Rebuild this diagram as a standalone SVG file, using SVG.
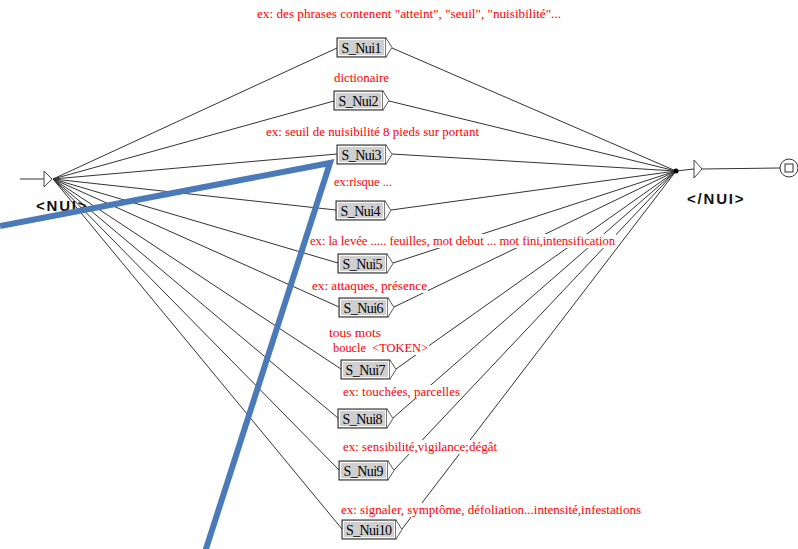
<svg xmlns="http://www.w3.org/2000/svg" width="798" height="549" viewBox="0 0 798 549">
<style>
.c{stroke:#333;stroke-width:1;fill:none}
.lb{fill:#fff}
.lt{font-family:"Liberation Serif",serif;font-size:12.5px;fill:#ff0000}
.bx{fill:#cfcfcf;stroke:#222;stroke-width:1}
.bi{fill:none;stroke:#fff;stroke-width:1}
.ar{fill:#fff;stroke:#555;stroke-width:1}
.bt{font-family:"Liberation Serif",serif;font-size:14px;fill:#000;text-anchor:middle}
.st{font-family:"Liberation Sans",sans-serif;font-size:15px;font-weight:bold;fill:#111;letter-spacing:1.8px}
</style>
<rect width="798" height="549" fill="#fff"/>
<g id="connectors">
<line class="c" x1="20" y1="179" x2="44" y2="179"/>
<line class="c" x1="53" y1="179" x2="337" y2="48"/>
<line class="c" x1="53" y1="179" x2="334" y2="101"/>
<line class="c" x1="53" y1="179" x2="337" y2="154"/>
<line class="c" x1="53" y1="179" x2="336" y2="210"/>
<line class="c" x1="53" y1="179" x2="338" y2="263"/>
<line class="c" x1="53" y1="179" x2="339" y2="307"/>
<line class="c" x1="53" y1="179" x2="341" y2="369"/>
<line class="c" x1="53" y1="179" x2="338" y2="418"/>
<line class="c" x1="53" y1="179" x2="339" y2="470"/>
<line class="c" x1="53" y1="179" x2="342" y2="529"/>
<line class="c" x1="392" y1="48" x2="676" y2="171"/>
<line class="c" x1="389" y1="101" x2="676" y2="171"/>
<line class="c" x1="392" y1="154" x2="676" y2="171"/>
<line class="c" x1="391" y1="210" x2="676" y2="171"/>
<line class="c" x1="393" y1="263" x2="676" y2="171"/>
<line class="c" x1="394" y1="307" x2="676" y2="171"/>
<line class="c" x1="396" y1="369" x2="676" y2="171"/>
<line class="c" x1="393" y1="418" x2="676" y2="171"/>
<line class="c" x1="394" y1="470" x2="676" y2="171"/>
<line class="c" x1="402" y1="529" x2="676" y2="171"/>
<line class="c" x1="676" y1="171" x2="694" y2="169"/>
<line class="c" x1="702" y1="169" x2="780" y2="168"/>
<circle cx="676" cy="171" r="2.5" fill="#000"/>
</g>
<g id="labels">
<rect class="lb" x="256" y="7" width="307" height="14"/>
<text class="lt" x="257" y="18" textLength="304" lengthAdjust="spacingAndGlyphs">ex: des phrases contenent "atteint", "seuil", "nuisibilité"...</text>
<rect class="lb" x="333" y="71" width="58" height="14"/>
<text class="lt" x="334" y="82" textLength="55" lengthAdjust="spacingAndGlyphs">dictionaire</text>
<rect class="lb" x="265" y="125" width="216" height="14"/>
<text class="lt" x="266" y="136" textLength="213" lengthAdjust="spacingAndGlyphs">ex: seuil de nuisibilité 8 pieds sur portant</text>
<rect class="lb" x="333" y="175" width="61" height="14"/>
<text class="lt" x="334" y="186" textLength="58" lengthAdjust="spacingAndGlyphs">ex:risque ...</text>
<rect class="lb" x="309" y="234" width="307" height="14"/>
<text class="lt" x="310" y="245" textLength="305" lengthAdjust="spacingAndGlyphs">ex: la levée ..... feuilles, mot debut ... mot fini,intensification</text>
<rect class="lb" x="311" y="279" width="117" height="14"/>
<text class="lt" x="312" y="290" textLength="115" lengthAdjust="spacingAndGlyphs">ex: attaques, présence</text>
<rect class="lb" x="328" y="326" width="54" height="14"/>
<text class="lt" x="329" y="337" textLength="52" lengthAdjust="spacingAndGlyphs">tous mots</text>
<rect class="lb" x="332" y="341" width="97" height="14"/>
<text class="lt" x="333" y="352" textLength="95" lengthAdjust="spacingAndGlyphs" xml:space="preserve">boucle  &lt;TOKEN&gt;</text>
<rect class="lb" x="342" y="385" width="119" height="14"/>
<text class="lt" x="343" y="396" textLength="117" lengthAdjust="spacingAndGlyphs">ex: touchées, parcelles</text>
<rect class="lb" x="342" y="440" width="156" height="14"/>
<text class="lt" x="343" y="451" textLength="154" lengthAdjust="spacingAndGlyphs">ex: sensibilité,vigilance;dégât</text>
<rect class="lb" x="340" y="503" width="302" height="14"/>
<text class="lt" x="341" y="514" textLength="300" lengthAdjust="spacingAndGlyphs">ex: signaler, symptôme, défoliation...intensité,infestations</text>
</g>
<g id="start">
<polygon points="44,171 52,179 44,187" fill="#fff" stroke="#444"/>
<text class="st" x="36" y="211">&lt;NUI&gt;</text>
</g>
<g id="end">
<polygon points="694,160 702,169 694,178" fill="#fff" stroke="#444"/>
<text class="st" x="687" y="204">&lt;/NUI&gt;</text>
<circle cx="789" cy="168" r="9" fill="#fff" stroke="#333"/>
<rect x="785" y="164" width="8" height="8" fill="#fff" stroke="#333"/>
</g>
<g id="n1"><rect class="bx" x="337" y="38" width="49" height="19"/><rect class="bi" x="338.5" y="39.5" width="46" height="16"/><polyline class="ar" points="386,38 392,47.5 386,57"/><text class="bt" x="361.5" y="52.5" textLength="40">S_Nui1</text></g>
<g id="n2"><rect class="bx" x="334" y="91" width="49" height="19"/><rect class="bi" x="335.5" y="92.5" width="46" height="16"/><polyline class="ar" points="383,91 389,100.5 383,110"/><text class="bt" x="358.5" y="105.5" textLength="40">S_Nui2</text></g>
<g id="n3"><rect class="bx" x="337" y="145" width="49" height="19"/><rect class="bi" x="338.5" y="146.5" width="46" height="16"/><polyline class="ar" points="386,145 392,154.5 386,164"/><text class="bt" x="361.5" y="159.5" textLength="40">S_Nui3</text></g>
<g id="n4"><rect class="bx" x="336" y="201" width="49" height="19"/><rect class="bi" x="337.5" y="202.5" width="46" height="16"/><polyline class="ar" points="385,201 391,210.5 385,220"/><text class="bt" x="360.5" y="215.5" textLength="40">S_Nui4</text></g>
<g id="n5"><rect class="bx" x="338" y="254" width="49" height="19"/><rect class="bi" x="339.5" y="255.5" width="46" height="16"/><polyline class="ar" points="387,254 393,263.5 387,273"/><text class="bt" x="362.5" y="268.5" textLength="40">S_Nui5</text></g>
<g id="n6"><rect class="bx" x="339" y="298" width="49" height="19"/><rect class="bi" x="340.5" y="299.5" width="46" height="16"/><polyline class="ar" points="388,298 394,307.5 388,317"/><text class="bt" x="363.5" y="312.5" textLength="40">S_Nui6</text></g>
<g id="n7"><rect class="bx" x="341" y="360" width="49" height="19"/><rect class="bi" x="342.5" y="361.5" width="46" height="16"/><polyline class="ar" points="390,360 396,369.5 390,379"/><text class="bt" x="365.5" y="374.5" textLength="40">S_Nui7</text></g>
<g id="n8"><rect class="bx" x="338" y="409" width="49" height="19"/><rect class="bi" x="339.5" y="410.5" width="46" height="16"/><polyline class="ar" points="387,409 393,418.5 387,428"/><text class="bt" x="362.5" y="423.5" textLength="40">S_Nui8</text></g>
<g id="n9"><rect class="bx" x="339" y="461" width="49" height="19"/><rect class="bi" x="340.5" y="462.5" width="46" height="16"/><polyline class="ar" points="388,461 394,470.5 388,480"/><text class="bt" x="363.5" y="475.5" textLength="40">S_Nui9</text></g>
<g id="n10"><rect class="bx" x="342" y="520" width="54" height="19"/><rect class="bi" x="343.5" y="521.5" width="51" height="16"/><polyline class="ar" points="396,520 402,529.5 396,539"/><text class="bt" x="369" y="534.5" textLength="46">S_Nui10</text></g>
<polyline points="0,226 330,163 205,552" fill="none" stroke="#4a7ab8" stroke-width="6" stroke-linejoin="miter"/>
</svg>
